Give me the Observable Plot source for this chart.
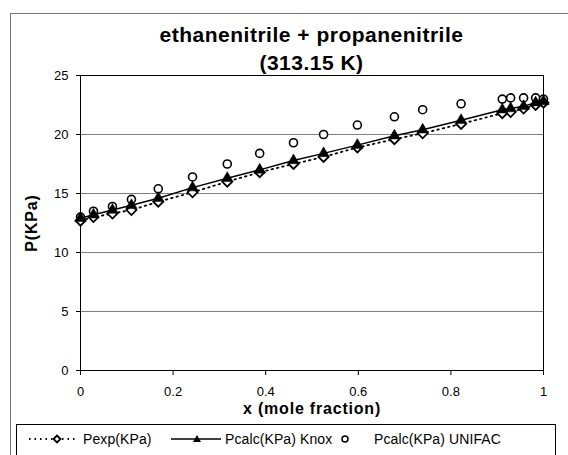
<!DOCTYPE html>
<html><head><meta charset="utf-8">
<script src="https://cdn.jsdelivr.net/npm/d3@7"></script>
<script src="https://cdn.jsdelivr.net/npm/@observablehq/plot@0.6"></script>
<style>
body{margin:0;background:#fff;font-family:"Liberation Sans",Arial,sans-serif;}
#wrap{position:relative;width:568px;height:455px;overflow:hidden;background:#fff;}
#border{position:absolute;left:10px;top:13px;width:600px;height:500px;border-left:1px solid #777;border-top:1px solid #777;}
#title{position:absolute;left:40px;width:543px;top:21px;text-align:center;font-weight:bold;font-size:21px;letter-spacing:0.5px;line-height:28px;color:#000;z-index:2;}
#chart{position:absolute;left:0;top:65px;z-index:1;}
#chart svg [aria-label="x-axis label"] text, #chart svg [aria-label="y-axis label"] text{font-weight:bold;font-size:16px;letter-spacing:0.8px;}
#legend{position:absolute;left:16px;top:424px;width:538px;height:32px;border:1px solid #000;font-size:14px;letter-spacing:0.1px;z-index:2;background:#fff;}
#legend span{position:absolute;top:6px;white-space:nowrap;}
#legend svg{position:absolute;top:0;left:0;}
</style></head>
<body>
<div id="wrap">
  <div id="border"></div>
  <div id="chart"></div>
  <div id="title">ethanenitrile + propanenitrile<br>(313.15 K)</div>
  <div id="legend"></div>
</div>
<script>
const xFrac = [0, 0.028, 0.069, 0.11, 0.168, 0.242, 0.317, 0.387, 0.46, 0.525, 0.598, 0.678, 0.739, 0.822, 0.911, 0.929, 0.957, 0.983, 1.0];
const pExp = [12.7, 13.0, 13.3, 13.6, 14.3, 15.1, 16.0, 16.8, 17.5, 18.1, 18.9, 19.6, 20.1, 20.9, 21.8, 21.9, 22.2, 22.5, 22.7];
const pKnox = [12.9, 13.2, 13.6, 14.0, 14.6, 15.5, 16.3, 17.0, 17.8, 18.4, 19.1, 19.9, 20.4, 21.2, 22.1, 22.2, 22.4, 22.7, 22.8];
const pUnifac = [13.0, 13.5, 13.9, 14.5, 15.4, 16.4, 17.5, 18.4, 19.3, 20.0, 20.8, 21.5, 22.1, 22.6, 23.0, 23.1, 23.1, 23.1, 23.0];
const xTicks = [0, 0.2, 0.4, 0.6, 0.8, 1];
const yTicks = [0, 5, 10, 15, 20, 25];
const seriesNames = ["Pexp(KPa)", "Pcalc(KPa) Knox", "Pcalc(KPa) UNIFAC"];

const rows = xFrac.map((x, i) => ({x, pexp: pExp[i], knox: pKnox[i], unifac: pUnifac[i]}));

const chart = Plot.plot({
  width: 568, height: 353,
  marginLeft: 80, marginRight: 25, marginTop: 10, marginBottom: 48,
  style: {fontFamily: "Liberation Sans, Arial, sans-serif", fontSize: "13px", color: "#000", background: "transparent", overflow: "visible"},
  x: {domain: [0, 1]},
  y: {domain: [0, 25]},
  marks: [
    Plot.gridY([5, 10, 15, 20], {stroke: "#808080", strokeOpacity: 1}),
    Plot.frame({stroke: "#000"}),
    Plot.axisY({ticks: yTicks, tickSize: 4, tickPadding: 8, tickFormat: d => String(d), label: "P(KPa)", labelAnchor: "center", labelOffset: 55, labelArrow: "none"}),
    Plot.axisX({ticks: xTicks, tickSize: 5, tickPadding: 11, tickFormat: d => String(d), label: "x (mole fraction)", labelAnchor: "center", labelOffset: 43, labelArrow: "none"}),
    Plot.line(rows, {x: "x", y: "pexp", stroke: "#000", strokeWidth: 1.8, strokeDasharray: "1.5,4"}),
    Plot.line(rows, {x: "x", y: "knox", stroke: "#000", strokeWidth: 1.5}),
    Plot.dot(rows, {x: "x", y: "unifac", r: 4, stroke: "#000", fill: "#fff", strokeWidth: 1.6}),
    Plot.dot(rows, {x: "x", y: "pexp", symbol: "diamond2", r: 4.5, stroke: "#000", fill: "#fff", strokeWidth: 1.8}),
    Plot.dot(rows, {x: "x", y: "knox", symbol: "triangle", r: 4.2, fill: "#000", stroke: "#000", strokeWidth: 0.5})
  ]
});
document.getElementById("chart").appendChild(chart);

// Legend
const leg = document.getElementById("legend");
const ns = "http://www.w3.org/2000/svg";
const sw = document.createElementNS(ns, "svg");
sw.setAttribute("width", 538); sw.setAttribute("height", 30);
sw.innerHTML = `
  <line x1="12" x2="60" y1="14" y2="14" stroke="#000" stroke-width="1.8" stroke-dasharray="1.5,4"/>
  <path d="M40,10.5 L43.5,14 L40,17.5 L36.5,14 Z" fill="#fff" stroke="#000" stroke-width="1.8"/>
  <line x1="154" x2="204" y1="14" y2="14" stroke="#000" stroke-width="1.5"/>
  <path d="M180,10 L184,17 L176,17 Z" fill="#000"/>
  <circle cx="328" cy="14" r="3" fill="#fff" stroke="#000" stroke-width="1.5"/>`;
leg.appendChild(sw);
const pos = [66, 208, 357];
seriesNames.forEach((n, i) => {
  const s = document.createElement("span");
  s.textContent = n; s.style.left = pos[i] + "px";
  leg.appendChild(s);
});
</script>
</body></html>
